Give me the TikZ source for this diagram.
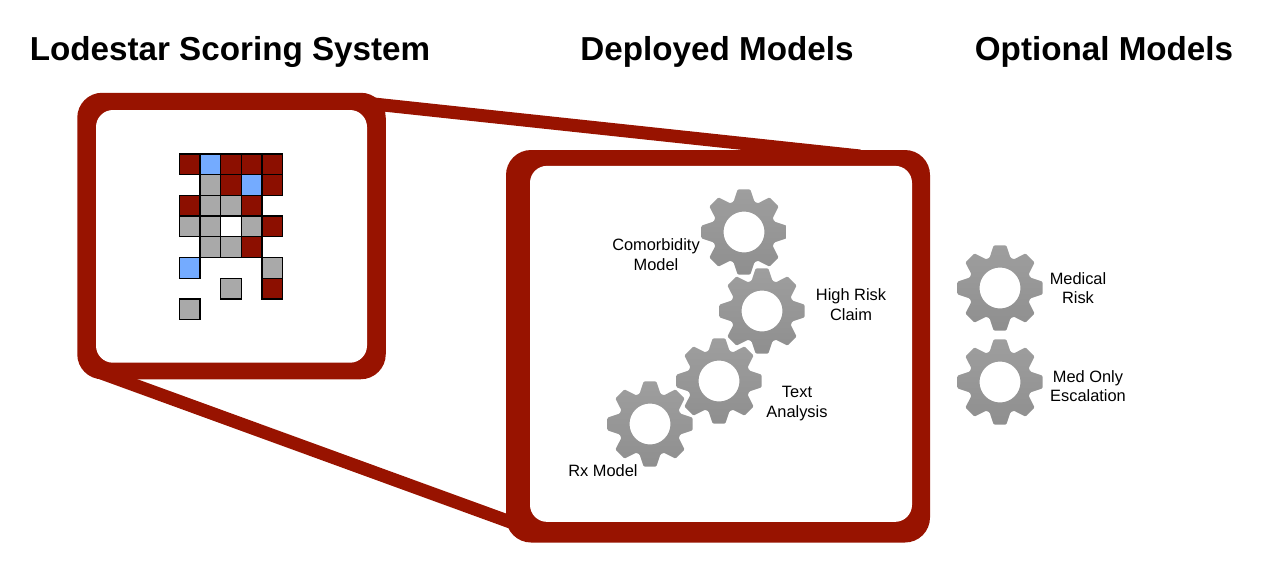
\documentclass[tikz,border=0pt]{standalone}
\usepackage{fontspec}
\setmainfont{Liberation Sans}
\definecolor{framered}{HTML}{981300}
\definecolor{cellred}{HTML}{8C0F00}
\definecolor{cellblue}{HTML}{74ABFF}
\definecolor{cellgray}{HTML}{A9A9A9}

\tikzstyle{heading} = [font=\fontsize{33.2}{38}\selectfont\bfseries, inner sep=0pt]
\tikzstyle{gearlabel} = [font=\fontsize{16.4}{19.7}\selectfont, align=center, inner sep=0pt]
\tikzstyle{frame} = [rectangle, fill=framered, rounded corners=25pt, inner sep=0pt, outer sep=0pt]
\tikzstyle{window} = [rectangle, fill=white, rounded corners=17pt, inner sep=0pt, outer sep=0pt]
\tikzstyle{cell} = [rectangle, draw=black, line width=1.3pt, minimum size=20.7pt, inner sep=0pt]
\tikzstyle{zoomlink} = [draw=framered, line width=13pt]
\tikzstyle{gearbody} = [top color=gray!76, middle color=gray!64, bottom color=gray!88, even odd rule, rounded corners=1pt]

\tikzset{
  gear/.pic={
    \path[gearbody] (-19:32) \foreach \tooth in {0,45,...,315} {
      -- (\tooth-19:32) -- (\tooth-8.5:43) -- (\tooth+8.5:43) -- (\tooth+19:32)
    } -- cycle (0,0) circle (20.5);
  }
}

\begin{document}
\begin{tikzpicture}[x=1pt, y=-1pt]
        \useasboundingbox (0,0) rectangle (1264,562);

        % titles
        \node[heading] (scoretitle) at (230,51.5) {Lodestar Scoring System};
        \node[heading] (deployedtitle) at (717,51.5) {Deployed Models};
        \node[heading] (optionaltitle) at (1104,51.5) {Optional Models};

        % frames and the two links between them
        \node[frame, minimum width=308.5pt, minimum height=286.5pt] (scoreframe) at (231.5,236) {};
        \node[frame, minimum width=424pt, minimum height=392.5pt] (deployedframe) at (718,346.25) {};
        \path[zoomlink] ([shift={(-23.5,10)}]scoreframe.north east) -- ([shift={(-70,6)}]deployedframe.north east);
        \path[zoomlink] ([shift={(22,-7)}]scoreframe.south west) -- ([shift={(14,-17)}]deployedframe.south west);
        \node[window, minimum width=271pt, minimum height=252.7pt] (scorewindow) at (231.5,236.35) {};
        \node[window, minimum width=382pt, minimum height=356pt] (deployedwindow) at (721,343.85) {};

        % score grid
        \foreach \col/\row/\kind in {
            0/0/cellred, 1/0/cellblue, 2/0/cellred, 3/0/cellred, 4/0/cellred,
            1/1/cellgray, 2/1/cellred, 3/1/cellblue, 4/1/cellred,
            0/2/cellred, 1/2/cellgray, 2/2/cellgray, 3/2/cellred,
            0/3/cellgray, 1/3/cellgray, 2/3/white, 3/3/cellgray, 4/3/cellred,
            1/4/cellgray, 2/4/cellgray, 3/4/cellred,
            0/5/cellblue, 4/5/cellgray,
            2/6/cellgray, 4/6/cellred,
            0/7/cellgray}
            \node[cell, fill=\kind] (cell\row\col) at ({189.6+20.7*\col},{164.3+20.7*\row}) {};

        % deployed models
        \pic (comorbiditygear) at (744,232) {gear};
        \pic (highriskgear) at (762,311) {gear};
        \pic (textgear) at (719,381) {gear};
        \pic (rxgear) at (650,424) {gear};
        \node[gearlabel] (comorbiditylabel) at (656,254.5) {Comorbidity\\Model};
        \node[gearlabel] (highrisklabel) at (851,304.5) {High Risk\\Claim};
        \node[gearlabel] (textlabel) at (797,403.5) {Text\\Analysis};
        \node[gearlabel] (rxlabel) at (603,470.5) {Rx Model};

        % optional models
        \pic (medicalgear) at (1000,288) {gear};
        \pic (medonlygear) at (1000,382) {gear};
        \node[gearlabel] (medicallabel) at (1078,288) {Medical\\Risk};
        \node[gearlabel] (medonlylabel) at (1088,386) {Med Only\\Escalation};
\end{tikzpicture}
\end{document}
